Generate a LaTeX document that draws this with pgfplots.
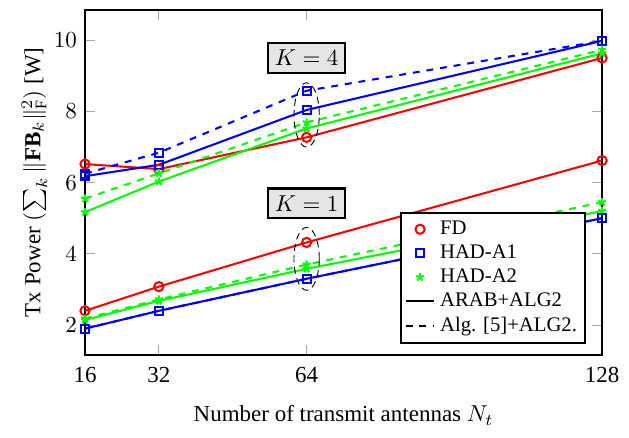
\documentclass[border=0pt]{standalone}
\usepackage{pgfplots}
\pgfplotsset{compat=1.18}
\usepackage{fontspec}
\setmainfont{Liberation Serif}
\begin{document}
\begin{tikzpicture}
\begin{axis}[
  name=ax,
  scale only axis,
  width=225pt, height=150pt,
  xmin=16, xmax=128, ymin=1.17, ymax=10.85,
  xtick={16,32,64,128}, xticklabels={16,32,64,128},
  ytick={2,4,6,8,10},
  tick style={gray!70, thin},
  axis line style={black, line width=0.9pt},
  xlabel={Number of transmit antennas $N_t$},
  ylabel={Tx Power $(\sum_k \|\mathbf{FB}_k\|_{\mathrm{F}}^2)$ [W]},
  xticklabel style={yshift=-2pt},
  xlabel style={yshift=-3pt},
  ylabel style={yshift=-4pt},
  legend style={at={(0.969,0.032)}, anchor=south east, draw=black, line width=0.9pt, font=\small, row sep=-1pt, inner sep=1.5pt},
  legend cell align=left,
  legend image code/.code={\draw[mark repeat=2,mark phase=2,#1] plot coordinates {(0cm,0cm) (0.22cm,0cm) (0.44cm,0cm)};},
  every axis plot/.append style={line width=0.9pt},
]
\addlegendimage{only marks, red, mark=o, mark size=2pt, line width=0.9pt}
\addlegendentry{FD}
\addlegendimage{only marks, blue, mark=square, mark size=1.75pt, line width=0.9pt}
\addlegendentry{HAD-A1}
\addlegendimage{only marks, green, mark=star, mark size=1.8pt, line width=0.9pt}
\addlegendentry{HAD-A2}
\addlegendimage{black, line width=0.9pt}
\addlegendentry{ARAB+ALG2}
\addlegendimage{black, dashed, line width=0.9pt}
\addlegendentry{Alg. [5]+ALG2.}

% K=4
\addplot[red, mark=o, mark size=2pt, forget plot] coordinates {(16,6.52) (32,6.38) (64,7.27) (128,9.50)};
\addplot[blue, dashed, mark=square, mark size=1.75pt, mark options={solid}, forget plot] coordinates {(16,6.25) (32,6.84) (64,8.58) (128,9.98)};
\addplot[blue, mark=square, mark size=1.75pt, forget plot] coordinates {(16,6.18) (32,6.50) (64,8.04) (128,9.98)};
\addplot[green, dashed, mark=star, mark size=1.8pt, mark options={solid}, forget plot] coordinates {(16,5.55) (32,6.26) (64,7.69) (128,9.73)};
\addplot[green, mark=star, mark size=1.8pt, forget plot] coordinates {(16,5.17) (32,6.03) (64,7.52) (128,9.63)};
% K=1
\addplot[red, mark=o, mark size=2pt, forget plot] coordinates {(16,2.40) (32,3.08) (64,4.32) (128,6.62)};
\addplot[green, dashed, mark=star, mark size=1.8pt, mark options={solid}, forget plot] coordinates {(16,2.18) (32,2.72) (64,3.70) (128,5.45)};
\addplot[green, mark=star, mark size=1.8pt, forget plot] coordinates {(16,2.14) (32,2.68) (64,3.58) (128,5.20)};
\addplot[blue, dashed, mark=square, mark size=1.75pt, mark options={solid}, forget plot] coordinates {(16,1.90) (32,2.40) (64,3.30) (128,5.00)};
\addplot[blue, mark=square, mark size=1.75pt, forget plot] coordinates {(16,1.90) (32,2.40) (64,3.30) (128,5.00)};

\draw[black, dash pattern=on 3pt off 2pt, thin] (axis cs:64,7.9) ellipse [x radius=5.5pt, y radius=14pt];
\draw[black, dash pattern=on 3pt off 2pt, thin] (axis cs:64,3.86) ellipse [x radius=5.5pt, y radius=13.7pt];
\node[draw=black, line width=0.9pt, fill=gray!20, inner sep=3pt] at (axis cs:64,9.5) {$K=4$};
\node[draw=black, line width=0.9pt, fill=gray!20, inner sep=3pt] at (axis cs:64,5.42) {$K=1$};
\end{axis}
\path (ax.south west) ++(-37pt,-36pt) coordinate (bbA);
\path (ax.north east) ++(11.7pt,4.3pt) coordinate (bbB);
\path (bbA) (bbB);
\end{tikzpicture}
\end{document}
